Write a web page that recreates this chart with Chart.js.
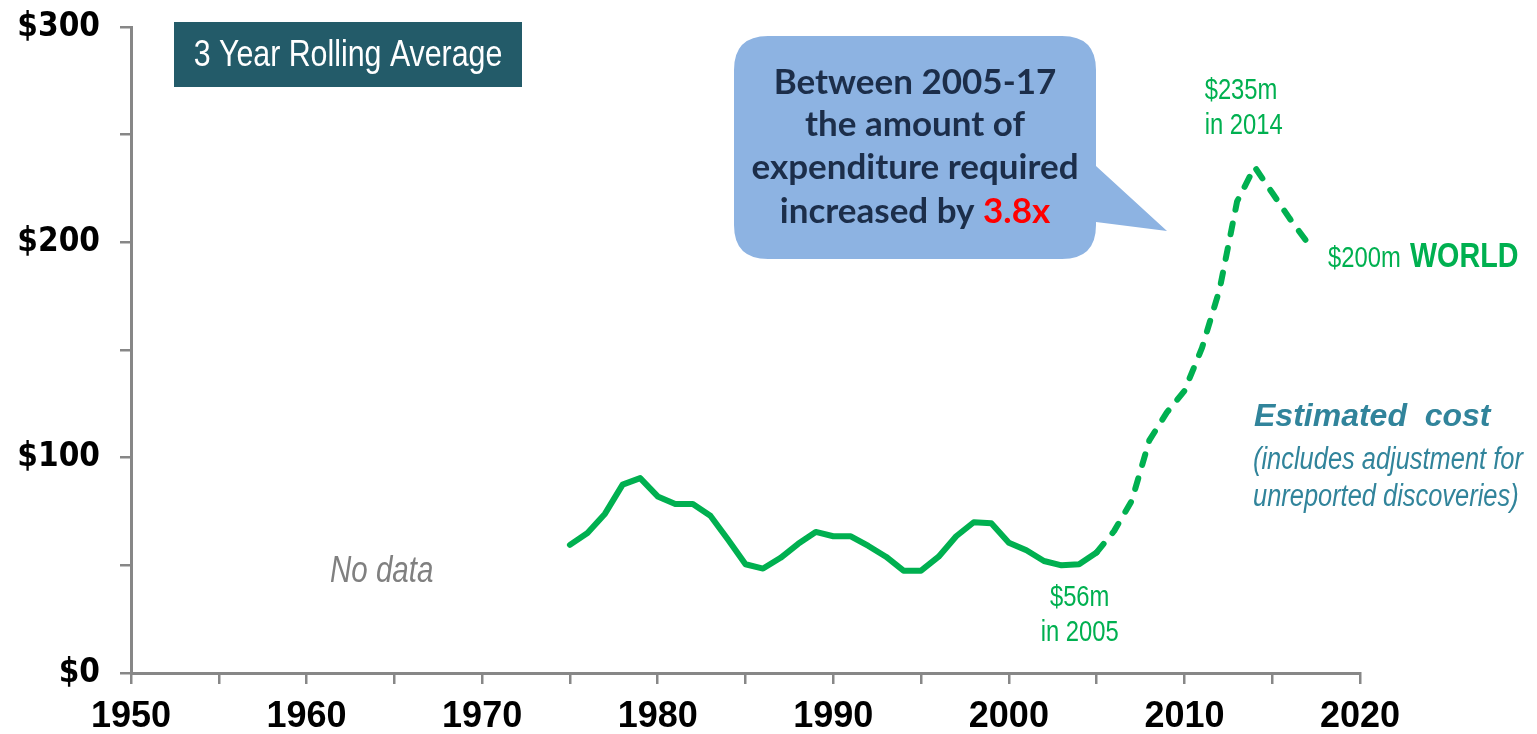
<!DOCTYPE html>
<html>
<head>
<meta charset="utf-8">
<script src="https://cdn.jsdelivr.net/npm/chart.js@4.4.1/dist/chart.umd.min.js"></script>
<style>
  html, body { margin: 0; padding: 0; background: #fff; }
  #wrap { width: 1537px; height: 734px; }
</style>
</head>
<body>
<div id="wrap"><canvas id="graficoCoste" width="1537" height="734"></canvas></div>
<script>
// exploration cost, 3 year rolling average ($m)
const years = [
  1975, 1976, 1977, 1978, 1979, 1980, 1981, 1982, 1983, 1984,
  1985, 1986, 1987, 1988, 1989, 1990, 1991, 1992, 1993, 1994,
  1995, 1996, 1997, 1998, 1999, 2000, 2001, 2002, 2003, 2004,
  2005, 2006, 2007, 2008, 2009, 2010, 2011, 2012, 2013, 2014,
  2015, 2016, 2017
];
const costs = [
  59.5, 65, 74, 87.5, 90.5, 82, 78.5, 78.5, 73, 62,
  50.5, 48.5, 53.5, 60, 65.5, 63.5, 63.5, 59, 54, 47.5,
  47.5, 54, 63.5, 70, 69.5, 60.5, 57, 52, 50, 50.5,
  56, 66, 80, 108, 121, 131, 151, 178, 219, 235,
  223, 211, 200
];
// from this year on the values are estimates (dashed)
const estimateFrom = 2005;

const xMin = 1950, xMax = 2020, xStep = 5, xLabelEvery = 10;
const yMin = 0, yMax = 300, yStep = 50, yLabelEvery = 100;

const GREEN = "#00B050";
const TEAL = "#31849B";
const AXIS = "#878787";
const SANS = "'Liberation Sans', Arial, sans-serif";
const NARROW = 0.82; // horizontal squeeze, no narrow face installed

const puntos = years.map((y, i) => ({ x: y, y: costs[i] }));

function texto(ctx, str, x, y, font, color, align, squeeze) {
  const k = squeeze || 1;
  ctx.save();
  ctx.translate(x, y);
  ctx.scale(k, 1);
  ctx.font = font;
  ctx.fillStyle = color;
  ctx.textAlign = align || "left";
  ctx.textBaseline = "middle";
  ctx.fillText(str, 0, 0);
  ctx.restore();
}

// keep the plot area fixed: no extra room for label overflow
function sinPadding(s) {
  s.paddingTop = 0;
  s.paddingBottom = 0;
  s.paddingLeft = 0;
  s.paddingRight = 0;
}

// boxes, callout and notes drawn over the chart
const anotaciones = {
  id: "anotaciones",
  afterDraw(chart) {
    const ctx = chart.ctx;
    const xs = chart.scales.x;
    ctx.save();

    // title box
    ctx.fillStyle = "#235B69";
    ctx.fillRect(174, 22, 348, 65);
    texto(ctx, "3 Year Rolling Average", 348, 56, "37px " + SANS, "#fff", "center", NARROW);

    // speech bubble
    const bx = 734, by = 36, bw = 362, bh = 223, r = 34;
    ctx.beginPath();
    ctx.moveTo(bx + r, by);
    ctx.lineTo(bx + bw - r, by);
    ctx.quadraticCurveTo(bx + bw, by, bx + bw, by + r);
    ctx.lineTo(bx + bw, 166);
    ctx.lineTo(1167, 231);
    ctx.lineTo(bx + bw, 222);
    ctx.lineTo(bx + bw, by + bh - r);
    ctx.quadraticCurveTo(bx + bw, by + bh, bx + bw - r, by + bh);
    ctx.lineTo(bx + r, by + bh);
    ctx.quadraticCurveTo(bx, by + bh, bx, by + bh - r);
    ctx.lineTo(bx, by + r);
    ctx.quadraticCurveTo(bx, by, bx + r, by);
    ctx.closePath();
    ctx.fillStyle = "#8DB3E2";
    ctx.fill();

    const fBubble = "bold 35px Lato, 'Open Sans', sans-serif";
    const navy = "#1C2E4A";
    const cx = bx + bw / 2;
    texto(ctx, "Between 2005-17", cx, 83, fBubble, navy, "center");
    texto(ctx, "the amount of", cx, 125, fBubble, navy, "center");
    texto(ctx, "expenditure required", cx, 168, fBubble, navy, "center");
    ctx.font = fBubble;
    const a = "increased by ", b = "3.8x";
    const wa = ctx.measureText(a).width, wb = ctx.measureText(b).width;
    const sx = cx - (wa + wb) / 2;
    texto(ctx, a, sx, 212, fBubble, navy, "left");
    texto(ctx, b, sx + wa, 212, fBubble, "#FF0000", "left");

    // value notes along the line
    const fNota = "29px " + SANS;
    const x2005 = xs.getPixelForValue(2005);
    texto(ctx, "$56m", x2005 - 17, 598, fNota, GREEN, "center", NARROW);
    texto(ctx, "in 2005", x2005 - 17, 633, fNota, GREEN, "center", NARROW);
    const x2014 = xs.getPixelForValue(2014);
    texto(ctx, "$235m", x2014 - 50, 91, fNota, GREEN, "left", NARROW);
    texto(ctx, "in 2014", x2014 - 50, 126, fNota, GREEN, "left", NARROW);
    texto(ctx, "$200m", 1328, 259, fNota, GREEN, "left", NARROW);
    texto(ctx, "WORLD", 1410, 257, "bold 35px " + SANS, GREEN, "left", NARROW);

    texto(ctx, "No data", 330, 572, "italic 36px " + SANS, "#808080", "left", NARROW);

    texto(ctx, "Estimated  cost", 1254, 417, "italic bold 32px " + SANS, TEAL, "left");
    texto(ctx, "(includes adjustment for", 1253, 460, "italic 31px " + SANS, TEAL, "left", NARROW);
    texto(ctx, "unreported discoveries)", 1253, 497, "italic 31px " + SANS, TEAL, "left", NARROW);

    ctx.restore();
  }
};

const ctx = document.getElementById("graficoCoste").getContext("2d");
const grafico = new Chart(ctx, {
  type: "line",
  data: {
    datasets: [
      {
        label: "WORLD",
        data: puntos,
        borderColor: GREEN,
        borderWidth: 6,
        pointRadius: 0,
        tension: 0,
        fill: false,
        borderCapStyle: "round",
        borderJoinStyle: "round",
        segment: {
          borderDash: (c) => (c.p0.parsed.x >= estimateFrom ? [11, 14] : undefined),
        },
      },
    ],
  },
  options: {
    responsive: false,
    animation: false,
    layout: { padding: { top: 27, right: 177, left: 0, bottom: 0 } },
    plugins: { legend: { display: false }, tooltip: { enabled: false } },
    scales: {
      x: {
        type: "linear",
        min: xMin,
        max: xMax,
        afterFit: (s) => { s.height = 61; sinPadding(s); },
        ticks: {
          stepSize: xStep,
          autoSkip: false,
          maxRotation: 0,
          padding: 11,
          color: "#000",
          font: { family: SANS, size: 36, weight: "bold" },
          callback: (v) => (v % xLabelEvery === 0 ? String(v) : ""),
        },
        grid: { drawOnChartArea: false, color: AXIS, lineWidth: 2.5, tickLength: 11 },
        border: { color: AXIS, width: 3 },
      },
      y: {
        min: yMin,
        max: yMax,
        afterFit: (s) => { s.width = 131; sinPadding(s); },
        ticks: {
          stepSize: yStep,
          padding: 20,
          color: "#000",
          font: { family: "'DejaVu Sans Condensed', 'DejaVu Sans', sans-serif", size: 33, weight: "bold" },
          callback: (v) => (v % yLabelEvery === 0 ? "$" + v : ""),
        },
        grid: { drawOnChartArea: false, color: AXIS, lineWidth: 2.5, tickLength: 11 },
        border: { color: AXIS, width: 3 },
      },
    },
  },
  plugins: [anotaciones],
});
</script>
</body>
</html>
